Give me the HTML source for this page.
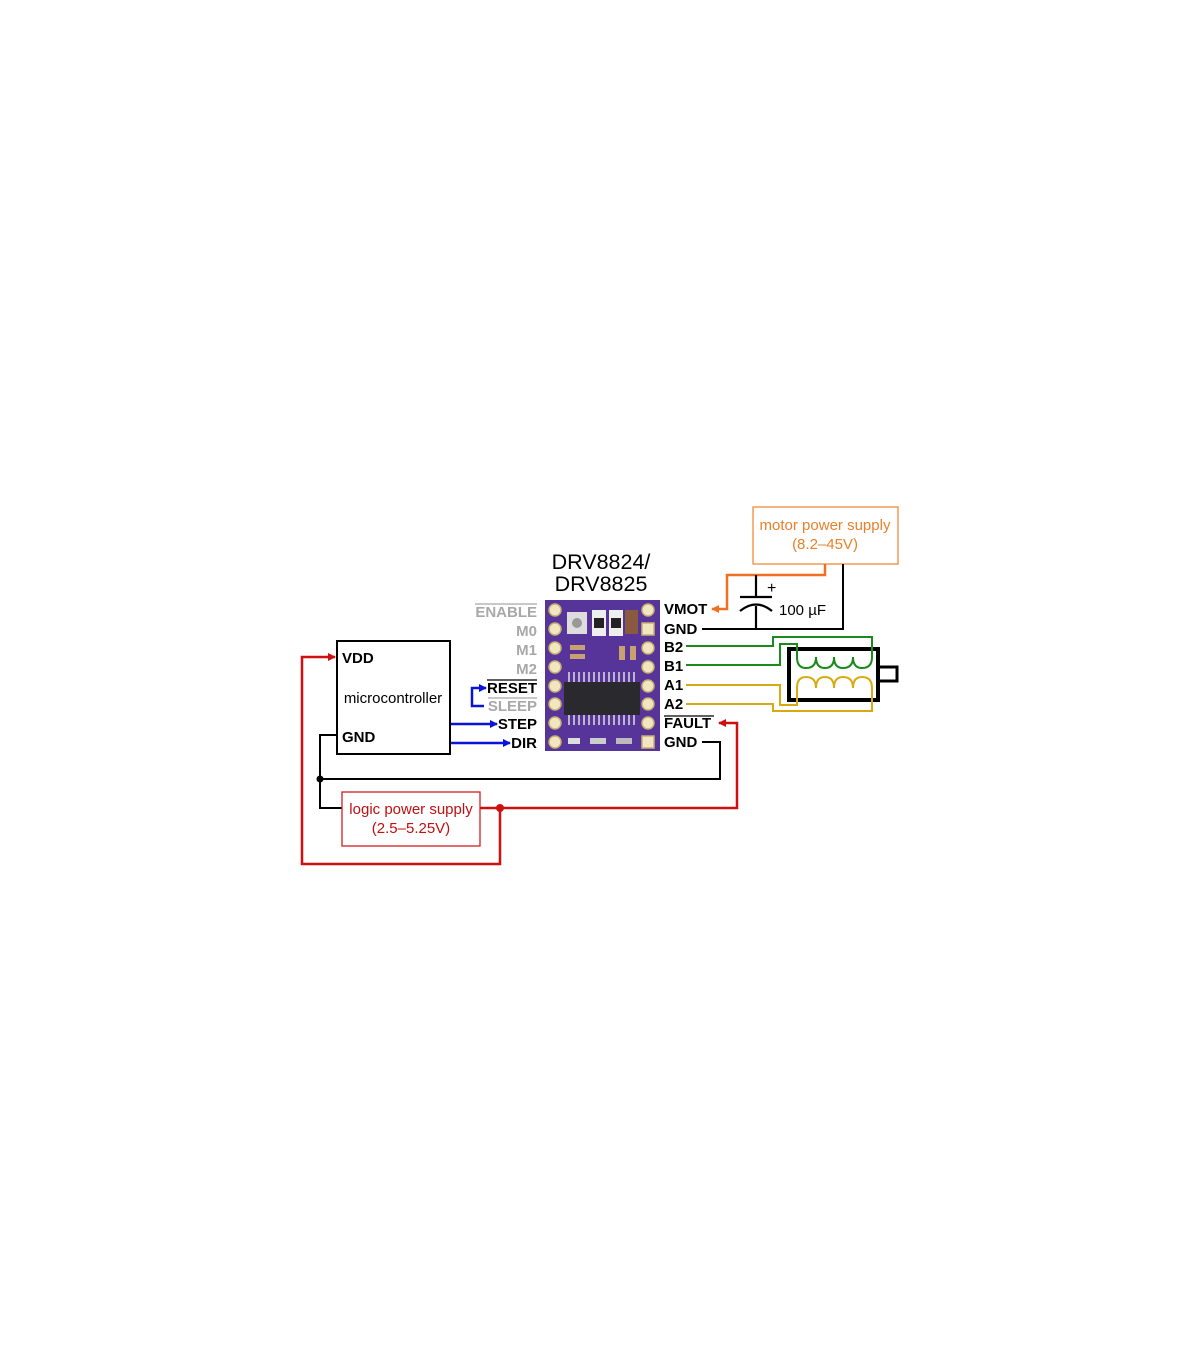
<!DOCTYPE html>
<html><head><meta charset="utf-8"><style>
html,body{margin:0;padding:0;background:#fff;}
svg{display:block;}
text{font-family:"Liberation Sans",Arial,sans-serif;}
.b{font-weight:bold;font-size:15px;}
</style></head><body>
<svg width="1200" height="1372" viewBox="0 0 1200 1372" xmlns="http://www.w3.org/2000/svg">
<defs>
<marker id="ab" markerWidth="8" markerHeight="8" refX="7" refY="4" orient="auto" markerUnits="userSpaceOnUse"><path d="M0,0 L8,4 L0,8 z" fill="#0a14d8"/></marker>
<marker id="ar" markerWidth="8" markerHeight="8" refX="7" refY="4" orient="auto" markerUnits="userSpaceOnUse"><path d="M0,0 L8,4 L0,8 z" fill="#d01010"/></marker>
<marker id="ao" markerWidth="8" markerHeight="8" refX="7" refY="4" orient="auto" markerUnits="userSpaceOnUse"><path d="M0,0 L8,4 L0,8 z" fill="#f07020"/></marker>
</defs>

<text x="601" y="569" font-size="21.5" text-anchor="middle">DRV8824/</text>
<text x="601" y="591" font-size="21.5" text-anchor="middle">DRV8825</text>

<rect x="545" y="600" width="115" height="151" fill="#56349a"/>
<g fill="#f0e6c0" stroke="#c8b070" stroke-width="1.5">
<circle cx="555" cy="610" r="6"/><circle cx="555" cy="629" r="6"/><circle cx="555" cy="648" r="6"/><circle cx="555" cy="667" r="6"/>
<circle cx="555" cy="686" r="6"/><circle cx="555" cy="704" r="6"/><circle cx="555" cy="723" r="6"/><circle cx="555" cy="742" r="6"/>
<circle cx="648" cy="610" r="6"/><rect x="642" y="623" width="12" height="12"/><circle cx="648" cy="648" r="6"/><circle cx="648" cy="667" r="6"/>
<circle cx="648" cy="686" r="6"/><circle cx="648" cy="704" r="6"/><circle cx="648" cy="723" r="6"/><rect x="642" y="736" width="12" height="12"/>
</g>
<rect x="567" y="612" width="20" height="22" fill="#ddd"/><circle cx="577" cy="623" r="5" fill="#999"/>
<rect x="592" y="610" width="14" height="26" fill="#eee"/><rect x="594" y="618" width="10" height="10" fill="#222"/>
<rect x="609" y="610" width="14" height="26" fill="#eee"/><rect x="611" y="618" width="10" height="10" fill="#222"/>
<rect x="625" y="610" width="13" height="24" fill="#8a5a40"/>
<rect x="570" y="645" width="15" height="5" fill="#c9a070"/><rect x="570" y="654" width="15" height="5" fill="#c9a070"/>
<rect x="619" y="646" width="6" height="14" fill="#c9a070"/><rect x="630" y="646" width="6" height="14" fill="#c9a070"/>
<g stroke="#ddd" stroke-width="1.5">
<path d="M569 672v10M574 672v10M579 672v10M584 672v10M589 672v10M594 672v10M599 672v10M604 672v10M609 672v10M614 672v10M619 672v10M624 672v10M629 672v10M634 672v10"/>
<path d="M569 715v10M574 715v10M579 715v10M584 715v10M589 715v10M594 715v10M599 715v10M604 715v10M609 715v10M614 715v10M619 715v10M624 715v10M629 715v10M634 715v10"/>
</g>
<rect x="564" y="682" width="76" height="33" fill="#2a2a2e"/>
<rect x="568" y="738" width="12" height="6" fill="#ddd"/><rect x="590" y="738" width="16" height="6" fill="#ccc"/><rect x="616" y="738" width="16" height="6" fill="#bbb"/>

<g class="b" text-anchor="end">
<text x="537" y="617" fill="#a8a8a8">ENABLE</text>
<text x="537" y="636" fill="#a8a8a8">M0</text>
<text x="537" y="655" fill="#a8a8a8">M1</text>
<text x="537" y="674" fill="#a8a8a8">M2</text>
<text x="537" y="693" fill="#000">RESET</text>
<text x="537" y="711" fill="#a8a8a8">SLEEP</text>
<text x="537" y="729" fill="#000">STEP</text>
<text x="537" y="748" fill="#000">DIR</text>
</g>
<line x1="475" y1="604" x2="537" y2="604" stroke="#a8a8a8" stroke-width="1.2"/>
<line x1="487" y1="680" x2="537" y2="680" stroke="#000" stroke-width="1.2"/>
<line x1="488" y1="698" x2="537" y2="698" stroke="#a8a8a8" stroke-width="1.2"/>

<g class="b" fill="#000">
<text x="664" y="614">VMOT</text>
<text x="664" y="634">GND</text>
<text x="664" y="652">B2</text>
<text x="664" y="671">B1</text>
<text x="664" y="690">A1</text>
<text x="664" y="709">A2</text>
<text x="664" y="728">FAULT</text>
<text x="664" y="747">GND</text>
</g>
<line x1="664" y1="716" x2="714" y2="716" stroke="#000" stroke-width="1.2"/>

<rect x="337" y="641" width="113" height="113" fill="none" stroke="#000" stroke-width="2"/>
<text x="342" y="663" class="b">VDD</text>
<text x="393" y="703" font-size="15" text-anchor="middle">microcontroller</text>
<text x="342" y="742" class="b">GND</text>

<rect x="753" y="507" width="145" height="57" fill="none" stroke="#f08a3a" stroke-width="1.3"/>
<text x="825" y="530" font-size="15" fill="#e8802a" text-anchor="middle">motor power supply</text>
<text x="825" y="549" font-size="15" fill="#e8802a" text-anchor="middle">(8.2–45V)</text>
<path d="M825 564V575H727V609H712" fill="none" stroke="#f07020" stroke-width="2.5" marker-end="url(#ao)"/>
<path d="M843 564V629H702" fill="none" stroke="#000" stroke-width="2"/>
<path d="M756 575V597M740 597H772M756 606V629" fill="none" stroke="#000" stroke-width="2.2"/>
<path d="M740 611Q756 598 772 611" fill="none" stroke="#000" stroke-width="2.2"/>
<text x="767" y="593" font-size="16">+</text>
<text x="779" y="615" font-size="15">100 µF</text>

<rect x="789" y="649" width="89" height="51" fill="none" stroke="#000" stroke-width="4"/>
<rect x="878" y="667" width="19" height="14" fill="none" stroke="#000" stroke-width="3"/>
<g fill="none" stroke="#1a8a1a" stroke-width="2">
<path d="M686 646H773V637H872V657"/>
<path d="M686 665H780V644H797V657"/>
<path d="M797 657Q797 668 806 668Q816 668 816 657Q816 668 825 668Q834 668 834 657Q834 668 843 668Q853 668 853 657Q853 668 862 668Q872 668 872 657"/>
</g>
<g fill="none" stroke="#d8aa10" stroke-width="2">
<path d="M686 685H780V705H797V688"/>
<path d="M686 704H773V711H872V688"/>
<path d="M797 688Q797 677 806 677Q816 677 816 688Q816 677 825 677Q834 677 834 688Q834 677 843 677Q853 677 853 688Q853 677 862 677Q872 677 872 688"/>
</g>

<path d="M451 724H497" stroke="#0a14d8" stroke-width="2.5" marker-end="url(#ab)"/>
<path d="M451 743H510" stroke="#0a14d8" stroke-width="2.5" marker-end="url(#ab)"/>
<path d="M484 706H472V688H486" fill="none" stroke="#0a14d8" stroke-width="2.5" marker-end="url(#ab)"/>

<path d="M702 742H720V779H320M337 735H320V808H342" fill="none" stroke="#000" stroke-width="2"/>
<circle cx="320" cy="779" r="3.5" fill="#000"/>

<rect x="342" y="792" width="138" height="54" fill="none" stroke="#d02020" stroke-width="1.3"/>
<text x="411" y="814" font-size="15" fill="#c01010" text-anchor="middle">logic power supply</text>
<text x="411" y="833" font-size="15" fill="#c01010" text-anchor="middle">(2.5–5.25V)</text>
<path d="M480 808H737V723H719" fill="none" stroke="#d01010" stroke-width="2.5" marker-end="url(#ar)"/>
<path d="M500 808V864H302V657H335" fill="none" stroke="#d01010" stroke-width="2.5" marker-end="url(#ar)"/>
<circle cx="500" cy="808" r="4" fill="#d01010"/>
</svg>
</body></html>
